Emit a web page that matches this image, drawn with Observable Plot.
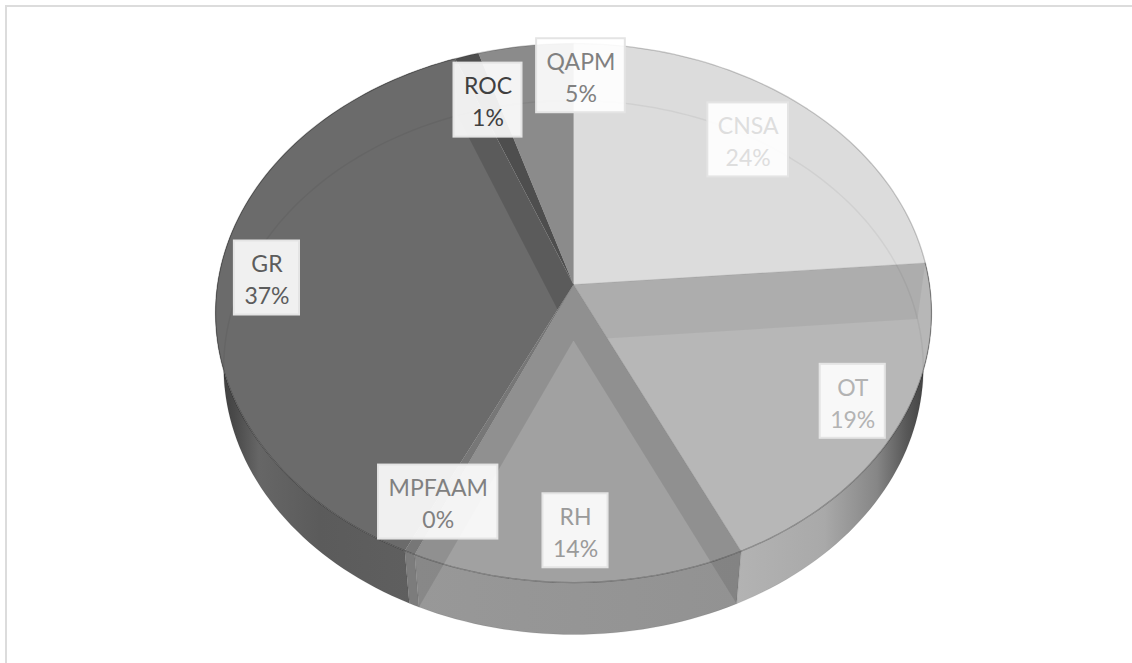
<!DOCTYPE html>
<html>
<head>
<meta charset="utf-8">
<script src="https://cdn.jsdelivr.net/npm/d3@7"></script>
<script src="https://cdn.jsdelivr.net/npm/@observablehq/plot@0.6"></script>
<style>
  html, body { margin: 0; padding: 0; background: #fff; }
  svg { display: block; }
</style>
</head>
<body>
<script>
// Share of each category, clockwise from twelve o'clock.
const categories = ["CNSA", "OT", "RH", "MPFAAM", "GR", "ROC", "QAPM"];
const shares = [23.7, 19.3, 13.6, 0.45, 37.0, 1.2, 4.75];

// Face tone and label text tone of each slice.
const faceTones = ["#dcdcdc", "#b7b7b7", "#a1a1a1", "#777777", "#6b6b6b", "#4e4e4e", "#8b8b8b"];
const textTones = ["#dedede", "#b3b3b3", "#9a9a9a", "#808080", "#5c5c5c", "#404040", "#808080"];

// Where each label sits: a fraction of the radius on the slice's middle angle, then a pixel nudge.
const labelRadius = [0.8, 0.85, 0.82, 0.8, 0.87, 0.8, 0.9];
const labelNudgeX = [-7, 5, -2, -7, 2, 1.5, 51];
const labelNudgeY = [3, -2, 7, 7.5, 1.5, 2, 8];

// Disc tilt: pixels per unit of the x and y scales, and the perspective of the two rims.
const unitX = 356, unitY = 266.5;
const rimTop = {k: 0.1058, sx: 1, sy: 1, lift: 0};
const rimBottom = {k: 0.1011, sx: 348 / 356, sy: 264.3 / 266.5, lift: -56 / 266.5};

const project = (deg, r, rim) => {
  const a = deg * Math.PI / 180;
  const w = 1 + rim.k * r * Math.cos(a);
  return {x: r * rim.sx * Math.sin(a) / w, y: r * rim.sy * Math.cos(a) / w + rim.lift};
};
const arc = (from, to, rim) => {
  const n = Math.max(2, Math.ceil(Math.abs(to - from) / 1.5));
  return d3.range(n + 1).map((i) => project(from + (to - from) * i / n, 1, rim));
};
const apexTop = project(0, 0, rimTop);
const apexBottom = project(0, 0, rimBottom);

// Start and end angle of every slice, in degrees.
const total = d3.sum(shares);
const ends = d3.cumsum(shares).map((v) => v / total * 360);
const slices = categories.map((name, i) => ({
  name, share: shares[i], tone: faceTones[i], textTone: textTones[i],
  start: i ? ends[i - 1] : 0, end: ends[i]
}));
const by = Object.fromEntries(slices.map((s) => [s.name, s]));

// Closed shapes are lines with a fill.
const shape = (points, fill, extra = {}) =>
  Plot.line([...points, points[0]], {x: "x", y: "y", fill, stroke: "none", ...extra});
const stroked = (points, stroke, strokeOpacity, strokeWidth = 1) =>
  Plot.line(points, {x: "x", y: "y", stroke, strokeOpacity, strokeWidth});

const face = (s) => shape([apexTop, ...arc(s.start, s.end, rimTop)], s.tone);
const wall = (s, fill) => shape([...arc(s.start, s.end, rimTop), ...arc(s.end, s.start, rimBottom)], fill);
// A radial cut seen through the translucent top face.
const cut = (deg, opacity) => shape(
  [apexTop, project(deg, 1, rimTop), project(deg, 1, rimBottom), apexBottom],
  "#000", {fillOpacity: opacity});
const edge = (deg, opacity) => stroked([apexTop, project(deg, 1, rimTop)], "#000", opacity);

// Shading of the curved outer walls.
const wallGradients = () => {
  const defs = d3.create("svg:defs");
  const add = (id, stops) => {
    const g = defs.append("linearGradient").attr("id", id);
    stops.forEach(([o, c]) => g.append("stop").attr("offset", o).attr("stop-color", c));
  };
  add("wall-ot", [[0, "#b3b3b3"], [0.45, "#a9a9a9"], [0.72, "#868686"], [0.87, "#585858"], [1, "#3a3a3a"]]);
  add("wall-gr", [[0, "#3a3a3a"], [0.08, "#4a4a4a"], [0.18, "#666666"], [0.43, "#5b5b5b"], [1, "#616161"]]);
  add("wall-rh", [[0, "#989898"], [1, "#929292"]]);
  return defs.node();
};

// Label boxes are sized from the measured text.
const labelSize = 23;
const measure = document.createElement("canvas").getContext("2d");
measure.font = `${labelSize}px Lato`;
const percent = d3.format(".0%");
const labels = slices.map((s, i) => {
  const p = project((s.start + s.end) / 2, labelRadius[i], rimTop);
  const pct = percent(s.share / 100);
  const w = Math.max(measure.measureText(s.name).width, measure.measureText(pct).width) + 20;
  const cx = p.x + labelNudgeX[i] / unitX;
  const cy = p.y - labelNudgeY[i] / unitY;
  return {
    text: `${s.name}\n${pct}`, tone: s.textTone, cx, cy,
    x1: cx - w / 2 / unitX, x2: cx + w / 2 / unitX,
    y1: cy - 37 / unitY, y2: cy + 37 / unitY
  };
});

const frontRim = arc(by.OT.start, by.GR.end, rimTop);
const fullRim = arc(0, 360, rimTop);
const rearBase = arc(-100, 100, rimBottom);

const chart = Plot.plot({
  width: 1132,
  height: 663,
  marginLeft: 5.5,
  marginTop: 5.5,
  marginRight: 0,
  marginBottom: 0,
  style: {background: "transparent"},
  x: {domain: [-1, 1], range: [573 - unitX, 573 + unitX], axis: null},
  y: {domain: [-1, 1], range: [284 + unitY, 284 - unitY], axis: null},
  marks: [
    wallGradients,
    Plot.frame({anchor: "left", stroke: "#dcdcdc", strokeWidth: 2}),
    Plot.frame({anchor: "top", stroke: "#dcdcdc", strokeWidth: 2}),

    // Curved outer walls at the front.
    wall(by.GR, "url(#wall-gr)"),
    wall(by.MPFAAM, "#7c7c7c"),
    wall(by.RH, "url(#wall-rh)"),
    wall(by.OT, "url(#wall-ot)"),
    stroked(arc(by.OT.start, by.GR.end, rimBottom), "#000", 0.08),

    // Top faces, with the cuts showing through.
    face(by.CNSA),
    face(by.QAPM),
    face(by.GR),
    cut(by.GR.end, 0.14),
    face(by.ROC),
    face(by.OT),
    cut(by.OT.start, 0.05),
    face(by.RH),
    cut(by.RH.start, 0.1),
    cut(by.RH.end, 0.1),
    face(by.MPFAAM),

    // The base ring and the edges of the top faces.
    stroked(rearBase, "#000", 0.05, 1.5),
    edge(by.OT.start, 0.08),
    edge(by.RH.start, 0.1),
    edge(by.MPFAAM.start, 0.08),
    edge(by.GR.start, 0.08),
    edge(0, 0.08),
    stroked(fullRim, "#000", 0.2, 1.3),
    stroked(frontRim, "#000", 0.1, 1.3),

    // Wall seams at the slice boundaries.
    ...[by.RH.start, by.MPFAAM.start, by.GR.start].map((d) =>
      stroked([project(d, 1, rimTop), project(d, 1, rimBottom)], "#000", 0.1)),

    // Data labels.
    Plot.rect(labels, {
      x1: "x1", x2: "x2", y1: "y1", y2: "y2",
      fill: "#fff", fillOpacity: 0.9,
      stroke: "#e4e4e4", strokeWidth: 2,
      style: {filter: "drop-shadow(2px 2px 3px rgba(0,0,0,0.2))"}
    }),
    Plot.text(labels, {
      x: "cx", y: "cy", text: "text", fill: "tone",
      fontFamily: "Lato", fontSize: labelSize, lineHeight: 32 / labelSize
    })
  ]
});
document.body.appendChild(chart);
</script>
</body>
</html>
